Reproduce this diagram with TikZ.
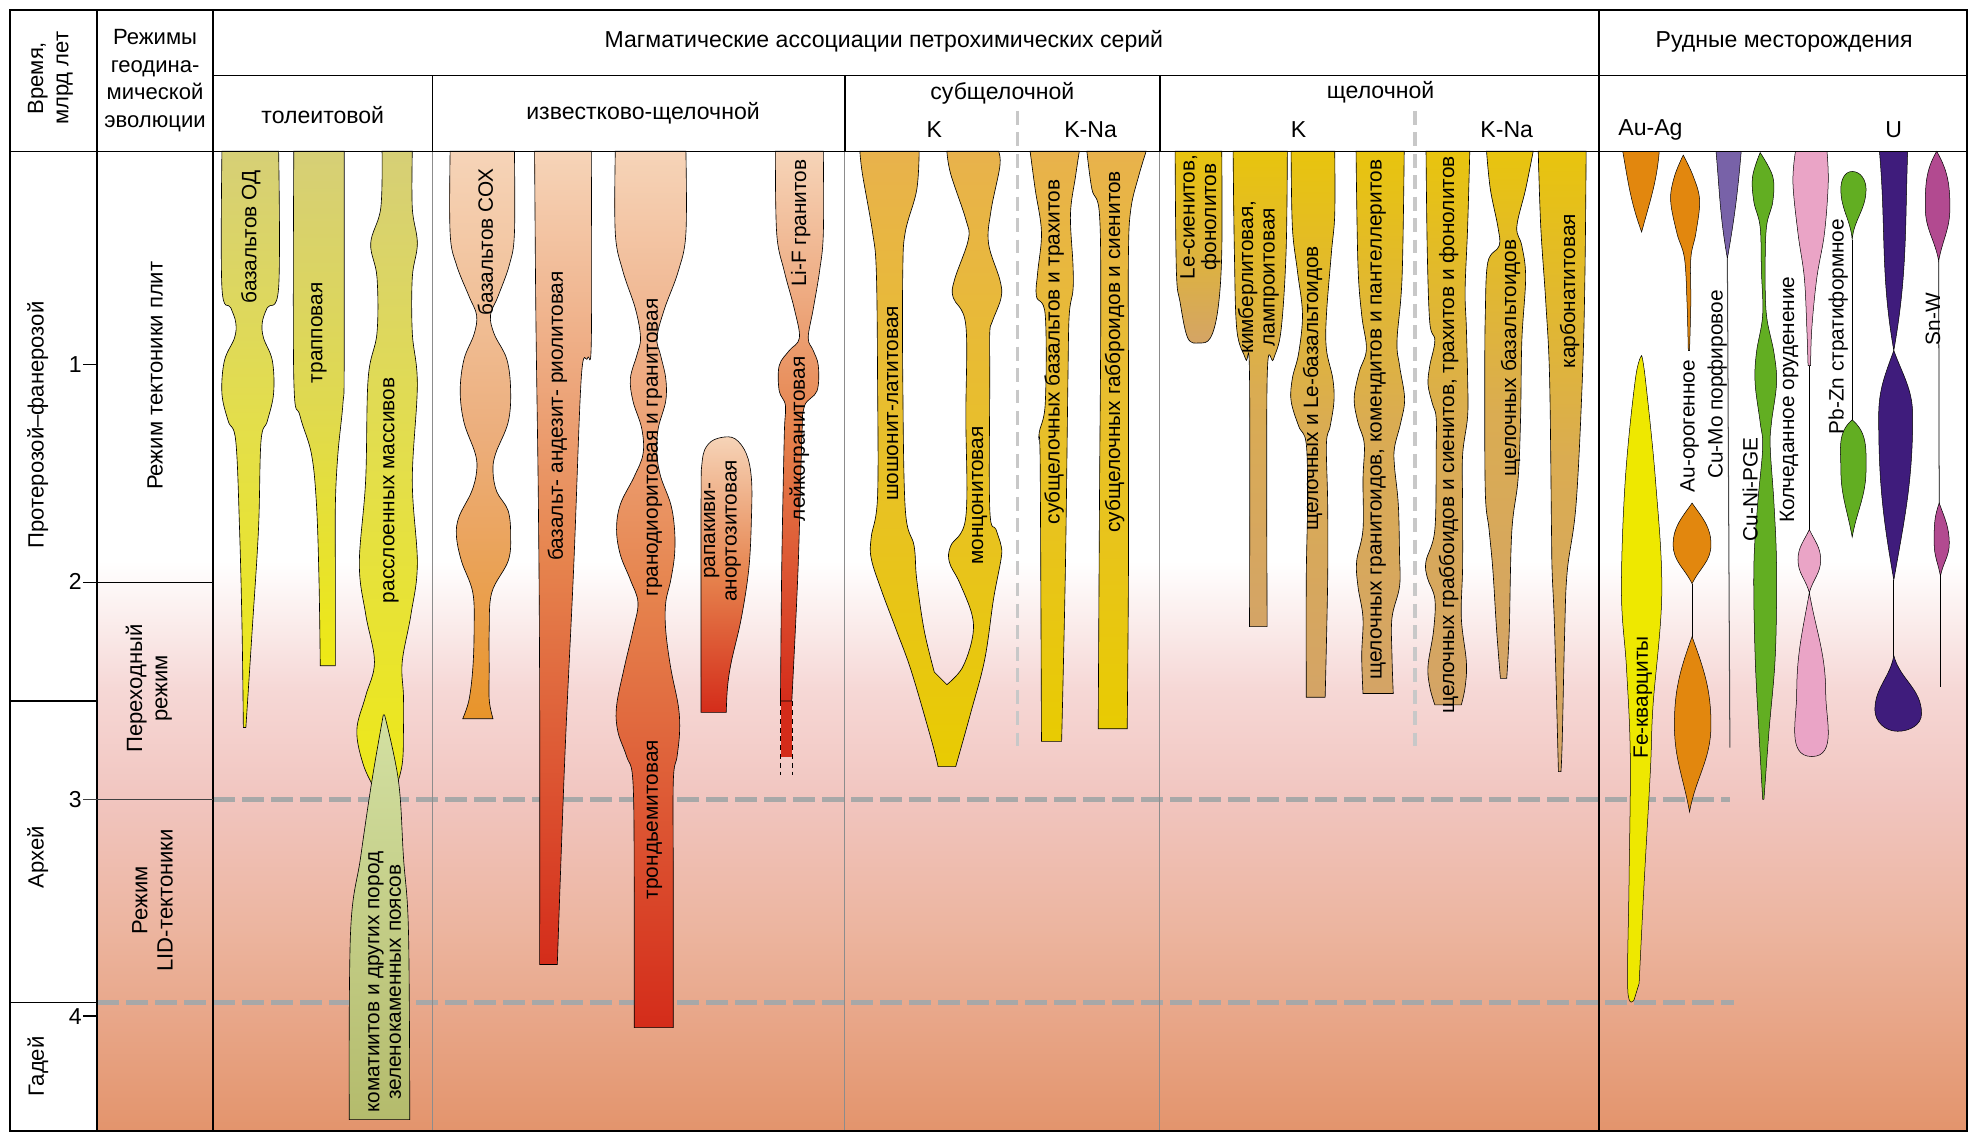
\documentclass[tikz,border=0pt]{standalone}
\usepackage{fontspec}
\setmainfont{Liberation Sans}
\definecolor{bgA}{HTML}{F6D8D6}
\definecolor{bgB}{HTML}{F1C5BF}
\definecolor{bgC}{HTML}{ECB49E}
\definecolor{bgD}{HTML}{E3946C}
\definecolor{olA}{HTML}{D6CF76}
\definecolor{yelA}{HTML}{E4DF48}
\definecolor{yelB}{HTML}{EEE914}
\definecolor{komA}{HTML}{D3E0A2}
\definecolor{komB}{HTML}{B4BB6C}
\definecolor{pchA}{HTML}{F6D4B8}
\definecolor{orgA}{HTML}{ECAE7C}
\definecolor{orgB}{HTML}{E8942A}
\definecolor{redM}{HTML}{E6844E}
\definecolor{redB}{HTML}{D42C1A}
\definecolor{gldA}{HTML}{E8B24C}
\definecolor{gldM}{HTML}{E8C028}
\definecolor{gldB}{HTML}{E8CB02}
\definecolor{tanA}{HTML}{E8C40E}
\definecolor{tanM}{HTML}{DAAC52}
\definecolor{tanB}{HTML}{D4A466}
\definecolor{auC}{HTML}{E2870E}
\definecolor{cumoC}{HTML}{7862A8}
\definecolor{cuniC}{HTML}{62AE22}
\definecolor{kolC}{HTML}{EAA4C6}
\definecolor{uC}{HTML}{3F1C7C}
\definecolor{snC}{HTML}{B24A90}
\definecolor{feC}{HTML}{EEE800}
\definecolor{dashC}{HTML}{A8A8A8}
\definecolor{divC}{HTML}{C8C8C8}
\definecolor{bodyC}{HTML}{8C8C8C}
\begin{document}
\begin{tikzpicture}[x=1pt,y=-1pt,
  bar/.style={draw=black, line width=0.5pt},
  ore/.style={draw=black, line width=0.4pt},
  thinln/.style={draw=black, line width=0.6pt},
  lbl/.style={rotate=90, font=\fontsize{16.5}{17}\selectfont, inner sep=0pt, align=center},
  hdr/.style={font=\fontsize{18.3}{21}\selectfont, inner sep=0pt, align=center},
  rhdr/.style={rotate=90, font=\fontsize{17.5}{20}\selectfont, inner sep=0pt, align=center},
  gline/.style={draw=black, line width=1.2pt},
  eradash/.style={draw=dashC, line width=3.4pt, dash pattern=on 17pt off 6pt},
  divdash/.style={draw=divC, line width=3pt, dash pattern=on 11pt off 6pt},
  bodyln/.style={draw=bodyC, line width=0.8pt},
  pl/.style={smooth, tension=0.6}]
\useasboundingbox (0,0) rectangle (1568,899);
\fill[white] (0,0) rectangle (1568,899);
% background gradient
\shade[top color=white, bottom color=bgA] (77,445) rectangle (1560,546);
\shade[top color=bgA, bottom color=bgB] (77,545) rectangle (1560,635);
\shade[top color=bgB, bottom color=bgC] (77,634) rectangle (1560,741);
\shade[top color=bgC, bottom color=bgD] (77,740) rectangle (1560,897);
% era dashed lines
\draw[eradash] (169,634) -- (1372,634);
\draw[eradash] (77,795) -- (1375,795);
% body column lines
\draw[bodyln] (343,120) -- (343,897);
\draw[bodyln] (670,120) -- (670,897);
\draw[bodyln] (920,120) -- (920,897);
\draw[divdash] (807,88) -- (807,595);
\draw[divdash] (1122,88) -- (1122,595);

% ---------- tholeiitic ----------
\draw[bar, top color=olA, bottom color=yelB, middle color=yelA]
 plot[pl] coordinates {(176,120) (176,228) (183,244) (187,256) (186,268) (178,286) (176,312) (181,334) (187,350) (190,420) (192,500) (193,577)}
 -- plot[pl] coordinates {(195,577) (200,500) (205,420) (207,350) (212,334) (217,312) (216,286) (209,268) (208,256) (212,244) (221,228) (221,120)} -- cycle;
\draw[bar, top color=olA, bottom color=yelB, middle color=olA!60!yelB]
 plot[pl] coordinates {(233,120) (233,300) (238,330) (247,360) (251,400) (253,460) (254,528)}
 -- plot[pl] coordinates {(266,528) (266,460) (266,400) (268,360) (272,320) (273,290) (273,120)} -- cycle;
\draw[bar, top color=olA, bottom color=yelB, middle color=yelA]
 plot[pl] coordinates {(303,120) (302,165) (294,193) (299,220) (299,264) (292,300) (290,381) (285,447) (290,487) (297,525) (290,552) (283,579) (288,606) (298,628) (305,645)}
 -- plot[pl] coordinates {(306,645) (313,628) (319,606) (320,579) (320,552) (319,525) (326,487) (331,447) (327,381) (331,305) (327,264) (327,220) (331,193) (327,165) (327,120)} -- cycle;
\draw[bar, top color=komA, bottom color=komB]
 plot[pl] coordinates {(304,567) (295,619) (286,680) (278,740) (277,888)}
 -- plot[pl] coordinates {(325,888) (324,740) (320,680) (316,619) (305,567)} -- cycle;

% ---------- calc-alkaline ----------
\draw[bar, top color=pchA, bottom color=orgB, middle color=orgA]
 plot[pl] coordinates {(357,120) (357,185) (362,210) (372,235) (378,250) (376,265) (368,285) (365,310) (368,335) (377,360) (378,374) (374,390) (364,410) (362,425) (366,445) (375,470) (376,500) (375,530) (372,555) (367,570)}
 -- plot[pl] coordinates {(391,570) (388,555) (388,530) (388,500) (390,470) (403,445) (405,425) (403,405) (394,390) (391,374) (393,360) (403,335) (405,310) (402,285) (392,265) (389,250) (395,235) (404,210) (408,185) (408,120)} -- cycle;
\draw[bar, top color=pchA, bottom color=redB, middle color=redM]
 plot[pl] coordinates {(424,120) (425,250) (427,400) (428,550) (428,765)}
 -- plot[pl] coordinates {(442,765) (448,600) (455,450) (461,300) (466,284) (469,270) (469,120)} -- cycle;
\draw[bar, top color=pchA, bottom color=redB, middle color=redM]
 plot[pl] coordinates {(488,120) (488,185) (494,215) (504,245) (508,268) (505,282) (500,300) (502,318) (509,340) (510,360) (503,378) (492,400) (489,420) (492,440) (500,460) (506,478) (502,500) (495,530) (489,560) (490,580) (497,600) (502,620) (503,700) (503,815)}
 -- plot[pl] coordinates {(534,815) (534,700) (534,620) (537,600) (539,580) (538,560) (532,530) (528,500) (528,478) (532,460) (535,440) (535,420) (532,400) (524,378) (521,360) (522,340) (528,318) (528,300) (524,282) (521,268) (527,245) (538,215) (544,185) (544,120)} -- cycle;
\draw[bar, top color=pchA, bottom color=redB, middle color=redM]
 plot[pl] coordinates {(576,565) (577,545) (580,525) (588,490) (594,450) (596,410) (596,380) (592,360) (583,348) (572,347) (562,352) (557,365) (556,400) (556,565)} -- cycle;
\fill[redB] (619.5,553) rectangle (628,600);
\draw[thinln, dash pattern=on 4pt off 3pt] (619,556) -- (619,615);
\draw[thinln, dash pattern=on 4pt off 3pt] (628.5,556) -- (628.5,615);
\draw[bar, top color=pchA, bottom color=redB, middle color=redM]
 plot[pl] coordinates {(615,120) (616,185) (622,215) (630,245) (634,268) (626,278) (618,290) (618,310) (623,322) (622,346) (620,450) (619,556)}
 -- plot[pl] coordinates {(628,556) (633,450) (636,346) (638,322) (648,310) (649,290) (645,278) (641,268) (645,245) (650,215) (653,185) (653,120)} -- cycle;

% ---------- subalkaline ----------
\draw[bar, top color=gldA, bottom color=gldB, middle color=gldM]
 plot[pl] coordinates {(682,120) (684,138) (692,184) (695,215) (696,300) (696,394) (691,426) (691,443) (699,468) (711,500) (723,533) (739,588) (744,608)}
 -- plot[pl] coordinates {(758,608) (770,565) (781,523) (788,475) (794,443) (794,433) (790,420) (785,404) (785,300) (785,264) (787,255) (794,236) (793,222) (784,193) (786,167) (793,132) (792,120)}
 -- plot[pl] coordinates {(751,120) (754,138) (766,174) (768,190) (757,222) (756,236) (766,258) (766,330) (766,410) (754,433) (753,446) (761,462) (771,488) (771,507) (763,530) (751,543)}
 -- plot[pl] coordinates {(741,533) (733,500) (727,459) (725,433) (718,404) (716,300) (716,216) (718,184) (727,151) (729,120)} -- cycle;
\draw[bar, top color=gldA, bottom color=gldB, middle color=gldM]
 plot[pl] coordinates {(817,120) (821,150) (826,184) (823,216) (822,235) (829,250) (829,320) (824,345) (825,370) (826,588)}
 -- plot[pl] coordinates {(842,588) (845,450) (847,300) (848,250) (851,230) (851,210) (849,170) (853,140) (856,120)} -- cycle;
\draw[bar, top color=gldA, bottom color=gldB, middle color=gldM]
 plot[pl] coordinates {(862,120) (866,150) (872,170) (873,250) (872,400) (871,578)}
 -- plot[pl] coordinates {(894,578) (895,450) (895,300) (895,200) (897,165) (903,140) (909,120)} -- cycle;

% ---------- alkaline ----------
\draw[bar, top color=tanA, bottom color=tanB]
 plot[pl] coordinates {(932,120) (933,215) (936,240) (942,268) (951,272) (960,268) (966,245) (969,200) (969,120)} -- cycle;
\draw[bar, top color=tanA, bottom color=tanB, middle color=tanM]
 plot[pl] coordinates {(978,120) (979,200) (981,262) (988,285) (991,298) (991,497)}
 -- plot[pl] coordinates {(1005,497) (1005,300) (1010,285) (1016,262) (1020,200) (1021,120)} -- cycle;
\draw[bar, top color=tanA, bottom color=tanB, middle color=tanM]
 plot[pl] coordinates {(1024,120) (1025,180) (1029,215) (1033,249) (1030,280) (1025,300) (1024,318) (1030,338) (1036,352) (1037,400) (1036,460) (1036,553)}
 -- plot[pl] coordinates {(1051,553) (1053,460) (1053,400) (1052,352) (1055,338) (1058,318) (1057,300) (1052,277) (1052,250) (1056,200) (1058.6,170) (1058.6,120)} -- cycle;
\draw[bar, top color=tanA, bottom color=tanB, middle color=tanM]
 plot[pl] coordinates {(1075.5,120) (1077,210) (1080,250) (1083.7,277) (1078,295) (1074,316) (1077,335) (1082,352) (1081,380) (1081,420) (1076,445) (1077,465) (1081,490) (1080,520) (1081,550)}
 -- plot[pl] coordinates {(1105,550) (1104,520) (1104,490) (1110,465) (1110,440) (1109,400) (1106,370) (1106,355) (1111,335) (1114,316) (1110,290) (1108,270) (1112,220) (1113.7,120)} -- cycle;
\draw[bar, top color=tanA, bottom color=tanB, middle color=tanM]
 plot[pl] coordinates {(1131,120) (1132,200) (1134,256) (1138,270) (1134,290) (1132.6,305) (1136,320) (1139,331) (1139,360) (1138,420) (1131,445) (1132,458) (1138,475) (1137,500) (1132.6,528) (1134,545) (1138,559)}
 -- plot[pl] coordinates {(1159,559) (1162,545) (1163,525) (1159,490) (1160,450) (1160,400) (1160,361) (1164,330) (1164,301) (1163,260) (1162,230) (1164,180) (1165.7,120)} -- cycle;
\draw[bar, top color=tanA, bottom color=tanB, middle color=tanM]
 plot[pl] coordinates {(1179,120) (1182,150) (1188,180) (1189,195) (1180,208) (1178,250) (1177.6,300) (1178,390) (1181,420) (1184,452) (1187,500) (1190,538)}
 -- plot[pl] coordinates {(1195,538) (1197,500) (1199,422) (1204,380) (1206,331) (1207,270) (1210,220) (1207,195) (1203,180) (1210,150) (1216,120)} -- cycle;
\draw[bar, top color=tanA, bottom color=tanB, middle color=tanM]
 plot[pl] coordinates {(1220,120) (1222,180) (1226,240) (1229,300) (1230.5,420) (1231,453) (1233,500) (1236,612)}
 -- plot[pl] coordinates {(1238,612) (1239,588) (1241,500) (1243,453) (1250,400) (1255,300) (1257,220) (1258,120)} -- cycle;

% ---------- ore deposits ----------
\filldraw[ore, fill=auC] (1287,120) to[out=-80,in=110] (1302,184) to[out=75,in=-95] (1316,120) -- cycle;
\draw[ore, fill=auC]
 plot[pl] coordinates {(1335,123) (1328,140) (1325,159) (1330,185) (1336,205) (1338,240) (1339,278)}
 -- plot[pl] coordinates {(1340,278) (1341,240) (1341,205) (1345,185) (1348,159) (1343,140) (1335,123)} -- cycle;
\filldraw[ore, fill=auC] (1342,399) to[out=-125,in=90] (1327,432) to[out=-90,in=115] (1342,463) to[out=65,in=-90] (1357,432) to[out=90,in=-55] (1342,399) -- cycle;
\draw[thinln] (1342,463) -- (1342,506);
\filldraw[ore, fill=auC] (1342,505) to[out=-110,in=90] (1328,575) to[out=-90,in=100] (1340,644) to[out=80,in=-90] (1357,575) to[out=90,in=-70] (1342,505) -- cycle;
\filldraw[ore, fill=cumoC] (1361,120) to[out=-85,in=100] (1370,205) to[out=80,in=-95] (1381,120) -- cycle;
\draw[draw=black!70, line width=0.8pt] (1370,205) -- (1372,593);
\draw[ore, fill=cuniC]
 plot[pl] coordinates {(1396,121) (1390,140) (1391,160) (1396,180) (1397,215) (1398,250) (1393,280) (1392,304) (1396,335) (1398,355) (1394,400) (1391,450) (1392,520) (1395,580) (1398,634)}
 -- plot[pl] coordinates {(1399,634) (1403,580) (1408,520) (1409,450) (1407,400) (1404,355) (1405,335) (1409,304) (1407,280) (1401,250) (1400,215) (1401,180) (1406,160) (1406,140) (1396,121)} -- cycle;
\draw[ore, fill=kolC]
 plot[pl] coordinates {(1424,120) (1422,145) (1426,185) (1431,220) (1433,260) (1434,290)}
 -- plot[pl] coordinates {(1436,290) (1437,260) (1441,220) (1447,185) (1450,145) (1449,120)} -- cycle;
\draw[thinln] (1435,290) -- (1435,421);
\filldraw[ore, fill=kolC] (1435,420) to[out=-115,in=90] (1426,444) to[out=-90,in=105] (1435,470) to[out=75,in=-90] (1444,444) to[out=90,in=-65] (1435,420) -- cycle;
\filldraw[ore, fill=kolC] (1435,470) to[out=-100,in=90] (1425,550) to[out=-90,in=180] (1437,600) to[out=0,in=-90] (1448,550) to[out=90,in=-80] (1435,470) -- cycle;
\filldraw[ore, fill=cuniC] (1469,136) to[out=180,in=90] (1460,150) to[out=-90,in=95] (1469,190) to[out=85,in=-90] (1480,150) to[out=90,in=0] (1469,136) -- cycle;
\draw[thinln] (1469,190) -- (1469,334);
\filldraw[ore, fill=cuniC] (1469,333) to[out=-140,in=90] (1460,372) to[out=-90,in=100] (1469,426) to[out=80,in=-90] (1480,372) to[out=90,in=-40] (1469,333) -- cycle;
\filldraw[ore, fill=uC] (1490.6,120) to[out=-85,in=100] (1502,278) to[out=80,in=-92] (1513,120) -- cycle;
\filldraw[ore, fill=uC] (1502,278) to[out=-110,in=90] (1490,330) to[out=-90,in=100] (1502,460) to[out=80,in=-90] (1517,330) to[out=90,in=-70] (1502,278) -- cycle;
\draw[thinln] (1502,460) -- (1502,521);
\filldraw[ore, fill=uC] (1502,520) to[out=-100,in=90] (1487,563) to[out=-90,in=180] (1505,580) to[out=0,in=-90] (1524,566) to[out=90,in=-75] (1502,520) -- cycle;
\filldraw[ore, fill=snC] (1536,120) to[out=-120,in=90] (1527,165) to[out=-90,in=100] (1537.6,207) to[out=80,in=-90] (1546.5,165) to[out=90,in=-60] (1536,120) -- cycle;
\draw[thinln] (1537.6,207) -- (1538,400);
\filldraw[ore, fill=snC] (1538,399) to[out=-110,in=90] (1534,431) to[out=-90,in=100] (1539,457) to[out=80,in=-90] (1546,431) to[out=90,in=-70] (1538,399) -- cycle;
\draw[thinln] (1539,457) -- (1539,545);
\draw[ore, fill=feC]
 plot[pl] coordinates {(1302,282) (1297,301) (1289,381) (1286,470) (1290,530) (1293,600) (1292,700) (1291,785) (1296,793)}
 -- plot[pl] coordinates {(1300,780) (1304,700) (1309,610) (1311,560) (1318,470) (1313,381) (1305,301) (1302,282)} -- cycle;

% ---------- grid / frame ----------
\draw[gline] (169,60) -- (1560,60);
\draw[gline] (8,120) -- (1560,120);
\draw[gline] (77,8) -- (77,897);
\draw[gline] (169,8) -- (169,897);
\draw[gline] (1268,8) -- (1268,897);
\draw[gline] (343,60) -- (343,120);
\draw[gline] (670,60) -- (670,120);
\draw[gline] (920,60) -- (920,120);
\draw[gline] (66,462) -- (169,462);
\draw[gline, draw=black!75] (66,634) -- (169,634);
\draw[gline] (8,556) -- (77,556);
\draw[gline] (8,795) -- (77,795);
\draw[gline] (66,289) -- (77,289);
\draw[gline] (66,806) -- (77,806);
\draw[draw=black, line width=2pt] (8,8) rectangle (1560,897);

% ---------- header texts ----------
\node[rhdr] (hTime) at (40,62) {Время,\\млрд лет};
\node[hdr, font=\fontsize{17.5}{22}\selectfont] (hReg) at (123,64) {Режимы\\геодина-\\мической\\эволюции};
\node[hdr] (hMag) at (701,33) {Магматические ассоциации петрохимических серий};
\node[hdr] (hOre) at (1415,33) {Рудные месторождения};
\node[hdr] (hThol) at (256,91) {толеитовой};
\node[hdr] (hCalc) at (510,90) {известково-щелочной};
\node[hdr] (hSub) at (795,74) {субщелочной};
\node[hdr] (hSubK) at (741,103) {K};
\node[hdr] (hSubKNa) at (865,103) {K-Na};
\node[hdr] (hAlk) at (1095,73) {щелочной};
\node[hdr] (hAlkK) at (1030,103) {K};
\node[hdr] (hAlkKNa) at (1195,103) {K-Na};
\node[hdr] (hAuAg) at (1309,103) {Au-Ag};
\node[hdr] (hU) at (1502,103) {U};

% time column
\node[rhdr] (tPF) at (30,337) {Протерозой–фанерозой};
\node[rhdr] (tArch) at (30,680) {Архей};
\node[rhdr] (tHad) at (30,846) {Гадей};
\node[hdr, anchor=east] (n1) at (65,289) {1};
\node[hdr, anchor=east] (n2) at (65,461) {2};
\node[hdr, anchor=east] (n3) at (65,634) {3};
\node[hdr, anchor=east] (n4) at (65,806) {4};
% regimes column
\node[rhdr] (rPlate) at (123,298) {Режим тектоники плит};
\node[rhdr] (rTrans) at (118,546) {Переходный\\режим};
\node[rhdr] (rLid) at (121,714) {Режим\\LID-тектоники};

% ---------- bar labels ----------
\node[lbl] (lOD) at (199,188) {базальтов ОД};
\node[lbl] (lTrap) at (253,264) {трапповая};
\node[lbl] (lRassl) at (310,389) {расслоенных массивов};
\node[lbl] (lKom) at (305,779) {коматиитов и других пород\\зеленокаменных поясов};
\node[lbl] (lSOX) at (385,192) {базальтов СОХ};
\node[lbl] (lBAR) at (442,330) {базальт- андезит- риолитовая};
\node[lbl] (lGrd) at (519,355) {гранодиоритовая и гранитовая};
\node[lbl] (lTrd) at (519,650) {трондьемитовая};
\node[lbl] (lRap) at (573,421) {рапакиви-\\анортозитовая};
\node[lbl] (lLiF) at (635,177) {Li-F гранитов};
\node[lbl] (lLeik) at (634,348) {лейкогранитовая};
\node[lbl] (lShosh) at (708,320) {шошонит-латитовая};
\node[lbl] (lMonz) at (777,393) {монцонитовая};
\node[lbl] (lSubB) at (836,279) {субщелочных базальтов и трахитов};
\node[lbl] (lSubG) at (884,279) {субщелочных габброидов и сиенитов};
\node[lbl] (lLe) at (952,172) {Le-сиенитов,\\фонолитов};
\node[lbl] (lKimb) at (998,220) {кимберлитовая,\\лампроитовая};
\node[lbl] (lAlkB) at (1041,308) {щелочных и Le-базальтоидов};
\node[lbl] (lAlkG) at (1093,333) {щелочных гранитоидов, комендитов и пантеллеритов};
\node[lbl] (lAlkGS) at (1149,345) {щелочных граббоидов и сиенитов, трахитов и фонолитов};
\node[lbl] (lAlkBs) at (1198,284) {щелочных базальтоидов};
\node[lbl] (lCarb) at (1245,231) {карбонатитовая};
% ore labels
\node[lbl] (oAu) at (1340,338) {Au-орогенное};
\node[lbl] (oCuMo) at (1362,305) {Cu-Mo порфировое};
\node[lbl] (oCuNi) at (1388,388) {Cu-Ni-PGE};
\node[lbl] (oKol) at (1419,317) {Колчеданное оруденение};
\node[lbl] (oPbZn) at (1458,259) {Pb-Zn стратиформное};
\node[lbl] (oSnW) at (1533,253) {Sn-W};
\node[lbl] (oFe) at (1303,553) {Fe-кварциты};
\end{tikzpicture}
\end{document}
